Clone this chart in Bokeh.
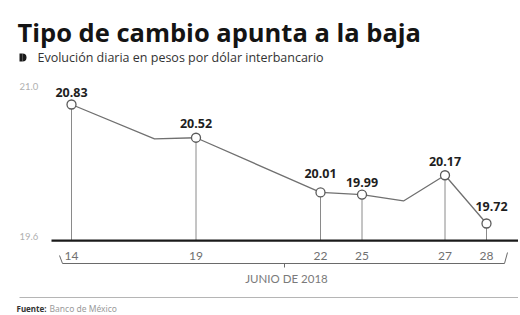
import math
from bokeh.plotting import figure
from bokeh.models import Range1d, ColumnDataSource
from bokeh.core.properties import value
from bokeh.embed import file_html
from bokeh.resources import INLINE

# ---- data ----
trading_days = ["14", "15", "18", "19", "20", "21", "22", "25", "26", "27", "28"]
line_days = ["14", "18", "19", "22", "25", "26", "27", "28"]
line_rates = [20.83, 20.51, 20.52, 20.01, 19.99, 19.93, 20.17, 19.72]
marked_days = ["14", "19", "22", "25", "27", "28"]
marked_rates = [20.83, 20.52, 20.01, 19.99, 20.17, 19.72]
marked_labels = ["20.83", "20.52", "20.01", "19.99", "20.17", "19.72"]
y_ticks = [21.0, 19.6]
y_tick_labels = ["21.0", "19.6"]
title_text = "Tipo de cambio apunta a la baja"
subtitle_text = "Evolución diaria en pesos por dólar interbancario"
month_text = "JUNIO DE 2018"
source_bold = "Fuente:"
source_text = "Banco de México"

# ---- layout ----
OFF = 1          # canvas offset on the page
W, H = 518, 313
PX_X = 41.5      # px per trading day
PX_Y = 107.2     # px per peso
X0 = -(72 - OFF) / PX_X
X1 = X0 + W / PX_X
Y1 = 20.83 + (105 - OFF) / PX_Y
Y0 = Y1 - H / PX_Y
BASE = 19.56


def X(px):
    return X0 + (px - OFF) / PX_X


def Y(py):
    return Y1 - (py - OFF) / PX_Y


p = figure(width=W, height=H, output_backend="svg", toolbar_location=None,
           x_range=Range1d(X0, X1), y_range=Range1d(Y0, Y1),
           min_border=0, min_border_left=0, min_border_right=0,
           min_border_top=0, min_border_bottom=0)
p.axis.visible = False
p.grid.visible = False
p.outline_line_color = None
p.background_fill_color = "white"
p.border_fill_color = "white"

lx = [trading_days.index(d) for d in line_days]
mx = [trading_days.index(d) for d in marked_days]

# drop lines
p.segment(x0=mx, y0=marked_rates, x1=mx, y1=[BASE] * len(mx),
          line_color="#8a8a8a", line_width=1)
# main line
p.line(lx, line_rates, line_color="#707070", line_width=1.3)
# base axis line
p.line([X(52), X(520)], [BASE, BASE], line_color="#1a1a1a", line_width=2.2)
# markers
p.scatter(mx, marked_rates, size=9, marker="circle", fill_color="white",
          line_color="#5a5a5a", line_width=1.3)

# value labels
lab_dy = [12, 14, 19, 12, 14, 17]
lab_dx = [0, 0, 0, 0, 0, 5]
src = ColumnDataSource(dict(x=mx, y=marked_rates, t=marked_labels,
                            dy=[-d for d in lab_dy], dx=lab_dx))
p.text(x="x", y="y", text="t", source=src, x_offset="dx", y_offset="dy",
       text_font=value("Noto Sans"), text_font_style="bold",
       text_font_size="12.5px", text_color="#1e1e1e",
       text_align="center", text_baseline="middle")

# day tick labels
p.text(x=mx, y=[BASE] * len(mx), text=marked_days, y_offset=15,
       text_font=value("Lato"), text_font_size="12px", text_color="#707070",
       text_align="center", text_baseline="middle")

# y labels
p.text(x=[X(20)] * 2, y=y_ticks, text=y_tick_labels,
       text_font=value("Lato"), text_font_size="9.5px", text_color="#b0b0b0",
       text_align="left", text_baseline="middle")

# bracket
p.line([X(60), X(63), X(505), X(508)], [Y(256), Y(264), Y(264), Y(253)],
       line_color="#6a6a6a", line_width=1)
p.line([X(285), X(285)], [Y(264), Y(268)], line_color="#6a6a6a", line_width=1)
p.text(x=[X(287)], y=[Y(279)], text=[month_text],
       text_font=value("Lato"), text_font_size="11.5px", text_color="#7a7a7a",
       text_align="center", text_baseline="middle")

# footer
p.line([X(20), X(520)], [Y(298), Y(298)], line_color="#b5b5b5", line_width=1)
p.text(x=[X(17)], y=[Y(309)], text=[source_bold],
       text_font=value("Noto Sans"), text_font_style="bold",
       text_font_size="8px", text_color="#333333",
       text_align="left", text_baseline="middle")
p.text(x=[X(50)], y=[Y(309)], text=[source_text],
       text_font=value("Noto Sans"), text_font_size="8.5px",
       text_color="#9a9a9a", text_align="left", text_baseline="middle")

# title and subtitle
p.text(x=[X(18)], y=[Y(32)], text=[title_text],
       text_font=value("Open Sans"), text_font_style="bold",
       text_font_size="25.5px", text_color="#141414",
       text_align="left", text_baseline="alphabetic")
p.rect(x=[X(21.5)], y=[Y(58)], width=3, height=8, width_units="screen",
       height_units="screen", fill_color="#1a1a1a", line_color=None)
p.wedge(x=[X(23)], y=[Y(58)], radius=4, radius_units="screen",
        start_angle=-math.pi / 2, end_angle=math.pi / 2,
        fill_color="#1a1a1a", line_color=None)
p.text(x=[X(38)], y=[Y(58)], text=[subtitle_text],
       text_font=value("Open Sans"), text_font_size="12.5px",
       text_color="#333333", text_align="left", text_baseline="middle")

open("out.html", "w").write(file_html(p, INLINE))
